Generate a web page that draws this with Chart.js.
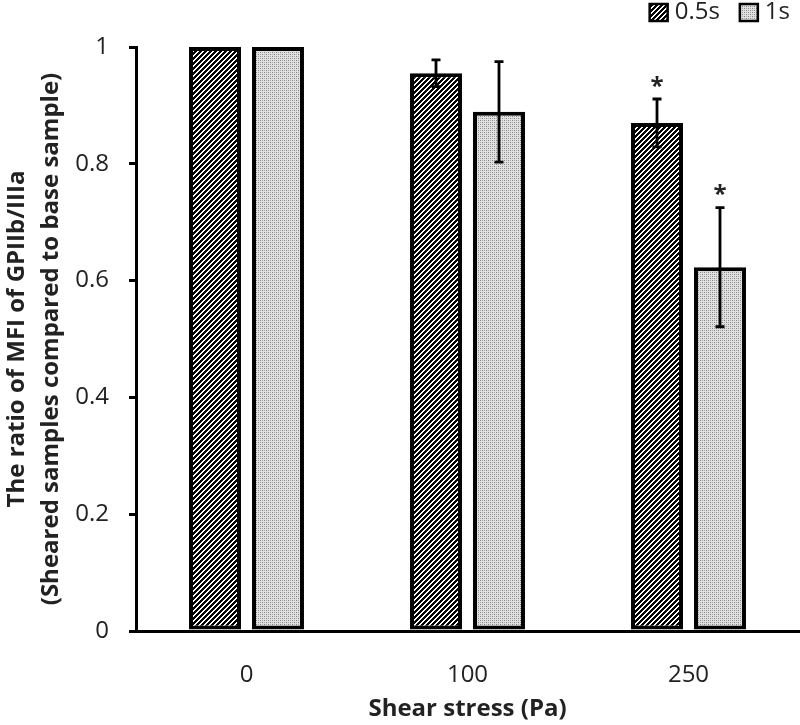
<!DOCTYPE html>
<html lang="en">

<head>
    <meta charset="UTF-8">
    <title>GPIIb/IIIa ratio vs shear stress</title>
    <script src="https://cdn.jsdelivr.net/npm/chart.js"></script>
    <style>
        body {
            margin: 0;
            background: #ffffff;
        }

        #chartContainer {
            width: 800px;
            height: 725px;
        }
    </style>
</head>

<body>
    <div id="chartContainer">
        <canvas id="ratioChart"></canvas>
    </div>

    <script>
        // data
        const shearLabels = ['0', '100', '250'];
        const seriesNames = ['0.5s', '1s'];
        const ratio05 = [1.0, 0.955, 0.870];
        const ratio1 = [1.0, 0.889, 0.623];
        const err05 = [0, 0.023, 0.041];
        const err1 = [0, 0.086, 0.102];
        const sig05 = [false, false, true];
        const sig1 = [false, false, true];
        const yTicks = [0, 0.2, 0.4, 0.6, 0.8, 1];

        const FONT = "'Open Sans', sans-serif";
        const TEXT = '#222222';

        // fill patterns for the bars
        function hatchPattern() {
            const c = document.createElement('canvas');
            c.width = 5; c.height = 5;
            const g = c.getContext('2d');
            g.fillStyle = '#ffffff';
            g.fillRect(0, 0, 5, 5);
            g.fillStyle = '#000000';
            for (let x = 0; x < 5; x++) {
                for (let y = 0; y < 5; y++) {
                    if ((x + y) % 5 < 3) g.fillRect(x, y, 1, 1);
                }
            }
            return g.createPattern(c, 'repeat');
        }

        function dotPattern() {
            const c = document.createElement('canvas');
            c.width = 4; c.height = 4;
            const g = c.getContext('2d');
            g.fillStyle = '#e0e0e0';
            g.fillRect(0, 0, 4, 4);
            g.fillStyle = '#808080';
            g.fillRect(0, 0, 1, 1);
            g.fillRect(2, 2, 1, 1);
            g.fillStyle = '#acacac';
            g.fillRect(2, 0, 1, 1);
            g.fillRect(0, 2, 1, 1);
            return g.createPattern(c, 'repeat');
        }

        const errors = [err05, err1];
        const stars = [sig05, sig1];

        // error bars + significance stars
        const errorBarPlugin = {
            id: 'errorBars',
            afterDatasetsDraw(chart) {
                const ctx = chart.ctx;
                const y = chart.scales.y;
                ctx.save();
                ctx.strokeStyle = '#000000';
                ctx.lineWidth = 2.8;
                chart.data.datasets.forEach((ds, i) => {
                    const meta = chart.getDatasetMeta(i);
                    meta.data.forEach((bar, j) => {
                        const v = ds.data[j];
                        const e = errors[i][j];
                        const top = y.getPixelForValue(v + e);
                        if (e > 0) {
                            const bottom = y.getPixelForValue(v - e);
                            ctx.beginPath();
                            ctx.moveTo(bar.x, top);
                            ctx.lineTo(bar.x, bottom);
                            ctx.moveTo(bar.x - 4.5, top);
                            ctx.lineTo(bar.x + 4.5, top);
                            ctx.moveTo(bar.x - 4.5, bottom);
                            ctx.lineTo(bar.x + 4.5, bottom);
                            ctx.stroke();
                        }
                        if (stars[i][j]) {
                            ctx.fillStyle = TEXT;
                            ctx.font = 'bold 24px ' + FONT;
                            ctx.textAlign = 'center';
                            ctx.textBaseline = 'middle';
                            ctx.fillText('*', bar.x, top - 12);
                        }
                    });
                });
                ctx.restore();
            }
        };

        // legend in the top right corner
        const legendPlugin = {
            id: 'cornerLegend',
            afterDraw(chart) {
                const ctx = chart.ctx;
                ctx.save();
                ctx.font = '24px ' + FONT;
                ctx.textBaseline = 'middle';
                ctx.textAlign = 'left';
                let x = chart.width - 10;
                const cy = 12;
                const items = chart.data.datasets.slice().reverse();
                items.forEach(ds => {
                    const w = ctx.measureText(ds.label).width;
                    x -= w;
                    ctx.fillStyle = TEXT;
                    ctx.fillText(ds.label, x, cy);
                    x -= 7 + 18;
                    ctx.fillStyle = ds.backgroundColor;
                    ctx.fillRect(x, cy - 8, 18, 17);
                    ctx.strokeStyle = '#000000';
                    ctx.lineWidth = 2.5;
                    ctx.strokeRect(x, cy - 8, 18, 17);
                    x -= 20;
                });
                ctx.restore();
            }
        };

        const ratioChart = new Chart(document.getElementById('ratioChart'), {
            type: 'bar',
            data: {
                labels: shearLabels,
                datasets: [{
                    label: seriesNames[0],
                    data: ratio05,
                    backgroundColor: hatchPattern(),
                    borderColor: '#000000',
                    borderWidth: 4,
                    borderSkipped: false
                }, {
                    label: seriesNames[1],
                    data: ratio1,
                    backgroundColor: dotPattern(),
                    borderColor: '#000000',
                    borderWidth: 4,
                    borderSkipped: false
                }]
            },
            options: {
                responsive: true,
                maintainAspectRatio: false,
                animation: false,
                categoryPercentage: 0.57,
                barPercentage: 0.825,
                layout: { padding: { top: 47, right: 1, left: 0, bottom: 0 } },
                plugins: {
                    legend: { display: false },
                    tooltip: { enabled: false }
                },
                scales: {
                    x: {
                        grid: { display: false },
                        border: { display: true, color: '#000000', width: 3 },
                        ticks: {
                            color: TEXT,
                            font: { family: FONT, size: 24 },
                            padding: 22
                        },
                        title: {
                            display: true,
                            text: 'Shear stress (Pa)',
                            color: TEXT,
                            font: { family: FONT, size: 24, weight: 'bold' },
                            padding: { top: 0, bottom: 1 }
                        },
                        afterFit(scale) { scale.height = 94; }
                    },
                    y: {
                        min: 0,
                        max: 1,
                        afterBuildTicks(scale) {
                            scale.ticks = yTicks.map(v => ({ value: v }));
                        },
                        grid: {
                            drawOnChartArea: false,
                            drawTicks: true,
                            tickLength: 7,
                            tickColor: '#000000',
                            lineWidth: 3
                        },
                        border: { display: true, color: '#000000', width: 3 },
                        ticks: {
                            color: TEXT,
                            font: { family: FONT, size: 24 },
                            padding: 20,
                            callback: v => String(v)
                        },
                        title: {
                            display: true,
                            text: ['The ratio of MFI of GPIIb/IIIa', '(Sheared samples compared to base sample)'],
                            color: TEXT,
                            font: { family: FONT, size: 24, weight: 'bold', lineHeight: '34px' },
                            padding: { top: 0, bottom: 0 }
                        },
                        afterFit(scale) { scale.width = 136; }
                    }
                }
            },
            plugins: [errorBarPlugin, legendPlugin]
        });
    </script>
</body>

</html>
